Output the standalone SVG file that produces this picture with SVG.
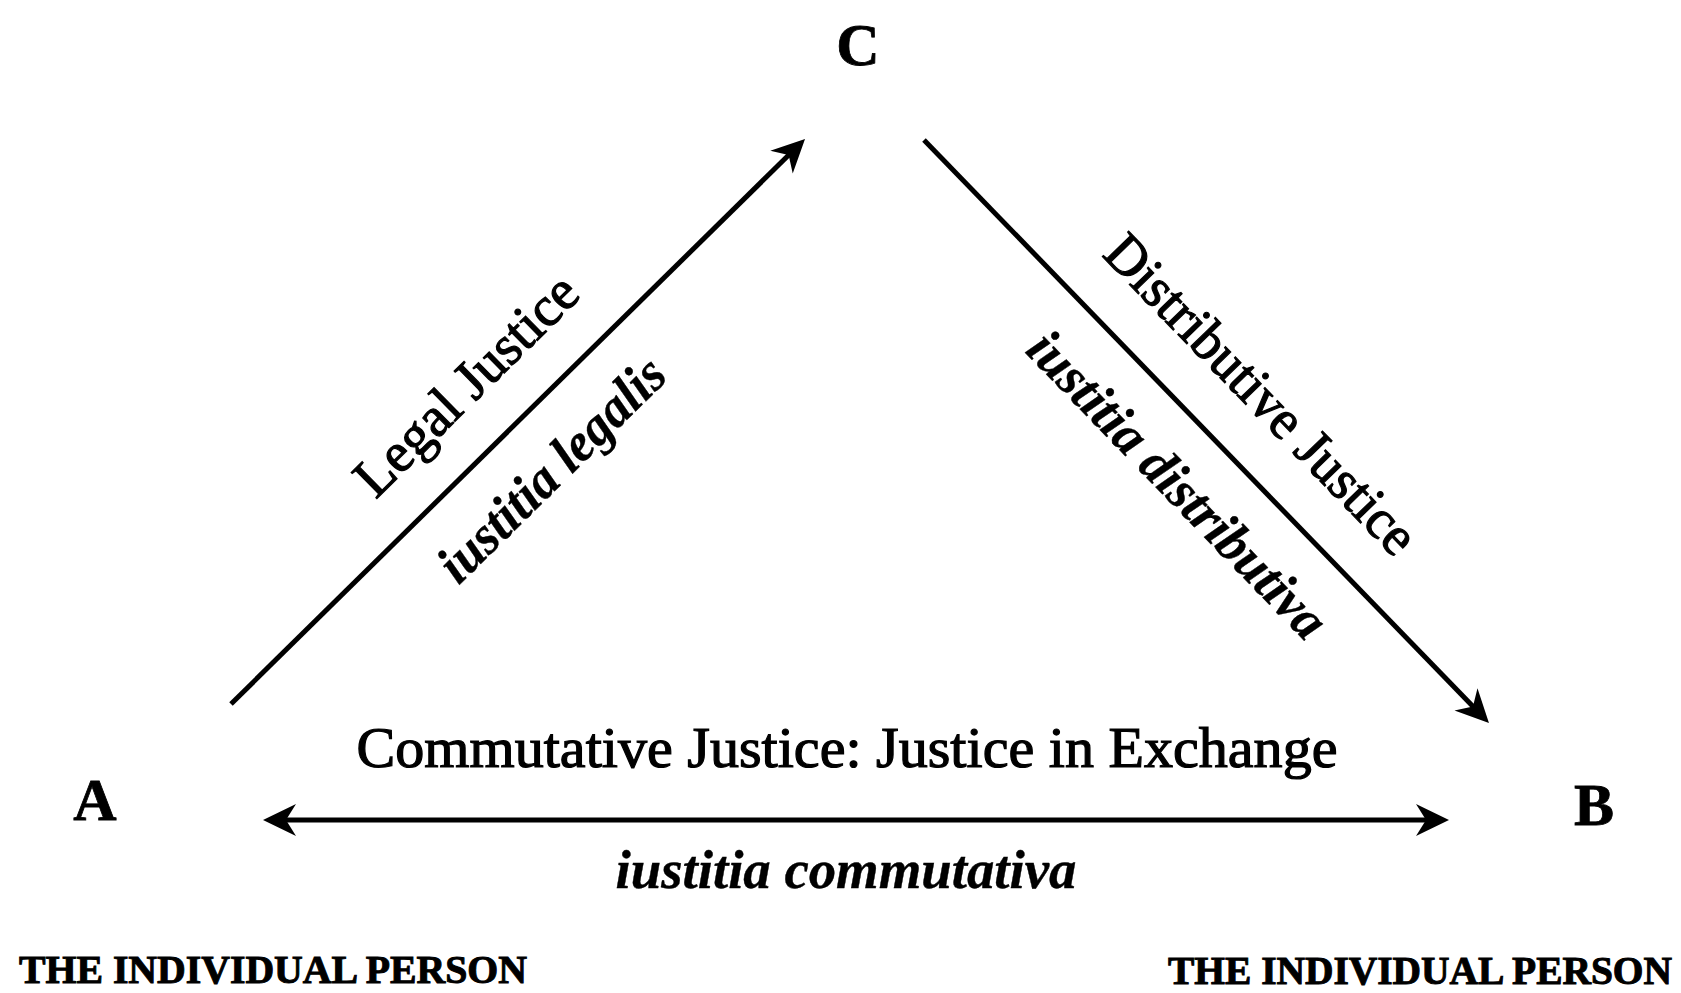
<svg xmlns="http://www.w3.org/2000/svg" width="1681" height="993" viewBox="0 0 1681 993">
<style>
.lbl{font-family:"Liberation Serif","Times New Roman",serif;fill:#000;stroke:#000;stroke-width:1.2;text-anchor:middle}
.pt{font-weight:bold;font-size:60px;stroke-width:0.8}
.main{font-size:56px}
.lat{font-size:54px;font-style:italic;font-weight:bold;stroke-width:0.4}
.cap{font-weight:bold;font-size:40px;stroke-width:1}
.conn{stroke:#000;stroke-width:5;fill:none}
</style>
<defs>
<marker id="ah" markerUnits="userSpaceOnUse" markerWidth="50" markerHeight="40" viewBox="-45 -20 50 40" refX="-10" refY="0" orient="auto-start-reverse" overflow="visible">
<path d="M0,0 L-33,-16 L-23,0 L-33,16 Z" fill="#000"/>
</marker>
</defs>
<rect width="1681" height="993" fill="#fff"/>
<g id="connectors">
<line id="legal" class="conn" x1="231" y1="704" x2="797.9" y2="146" marker-end="url(#ah)"/>
<line id="distributive" class="conn" x1="924" y1="140" x2="1482" y2="715.8" marker-end="url(#ah)"/>
<line id="commutative" class="conn" x1="273" y1="820" x2="1439" y2="820" marker-start="url(#ah)" marker-end="url(#ah)"/>
</g>
<g id="node-C"><text class="lbl pt" x="858" y="65">C</text></g>
<g id="node-A">
<text class="lbl pt" x="95" y="820">A</text>
<text class="lbl cap" x="273" y="983" textLength="508" lengthAdjust="spacingAndGlyphs">THE INDIVIDUAL PERSON</text>
</g>
<g id="node-B">
<text class="lbl pt" x="1594" y="825">B</text>
<text class="lbl cap" x="1420" y="984" textLength="504" lengthAdjust="spacingAndGlyphs">THE INDIVIDUAL PERSON</text>
</g>
<g id="labels">
<text class="lbl main" transform="translate(479,398) rotate(-44.55)" x="0" y="0" textLength="290" lengthAdjust="spacingAndGlyphs">Legal Justice</text>
<text class="lbl lat" transform="translate(564,482) rotate(-44.55)" x="0" y="0" textLength="296" lengthAdjust="spacingAndGlyphs">iustitia legalis</text>
<text class="lbl main" transform="translate(1248,407) rotate(45.9)" x="0" y="0" textLength="422" lengthAdjust="spacingAndGlyphs">Distributive Justice</text>
<text class="lbl lat" transform="translate(1165,497) rotate(45.9)" x="0" y="0" textLength="405" lengthAdjust="spacingAndGlyphs">iustitia distributiva</text>
<text class="lbl main" x="847" y="767" textLength="981" lengthAdjust="spacingAndGlyphs">Commutative Justice: Justice in Exchange</text>
<text class="lbl lat" x="846" y="888" textLength="461" lengthAdjust="spacingAndGlyphs">iustitia commutativa</text>
</g>
</svg>
